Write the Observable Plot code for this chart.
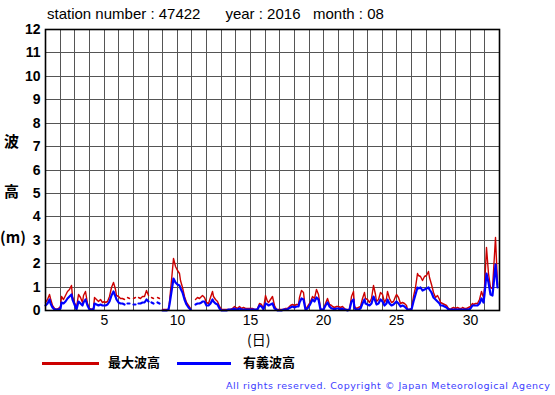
<!DOCTYPE html>
<html><head><meta charset="utf-8">
<script src="https://cdn.jsdelivr.net/npm/d3@7"></script>
<script src="https://cdn.jsdelivr.net/npm/@observablehq/plot@0.6"></script>
<style>
body{margin:0;background:#fff;}
#wrap{position:relative;width:555px;height:395px;overflow:hidden;font-family:"Liberation Sans",Arial,sans-serif;color:#000;}
#chart{position:absolute;left:0;top:0;}
.abs{position:absolute;white-space:pre;line-height:1;}
#title{left:47px;top:6px;font-size:15px;}
.ylab{left:4px;font-family:"Noto Sans CJK JP",sans-serif;font-weight:bold;font-size:15px;}
#xlab{left:247px;top:332px;font-size:14px;font-family:"Noto Sans CJK JP",sans-serif;}
.lgline{position:absolute;height:3px;top:362px;}
.lgtext{top:355px;font-size:13px;font-weight:bold;font-family:"Noto Sans CJK JP",sans-serif;}
#copy{left:226px;top:378px;}
</style></head><body>
<div id="wrap">
  <div id="chart"></div>
  <div id="title" class="abs">station number : 47422      year : 2016   month : 08</div>
  <div class="abs ylab" style="top:133px;">波</div>
  <div class="abs ylab" style="top:183px;">高</div>
  <div class="abs ylab" style="top:229px;left:0px;">(m)</div>
  <div id="xlab" class="abs">(日)</div>
  <div class="lgline" style="left:42px;width:57px;background:#cc0000;"></div>
  <div class="abs lgtext" style="left:108px;">最大波高</div>
  <div class="lgline" style="left:177px;width:54px;background:#0000ff;"></div>
  <div class="abs lgtext" style="left:243px;">有義波高</div>
  <svg id="copy" class="abs" width="326" height="14"><text x="0" y="11" textLength="324" lengthAdjust="spacing" font-family="DejaVu Sans, sans-serif" font-size="9.5" fill="#3c3cff">All rights reserved. Copyright © Japan Meteorological Agency</text></svg>
</div>
<script>
// 3-hourly values (hours 0,3,...,21) for each day of August 2016, station 47422
const maxWave = [
  0.35,0.45,0.7,0.5,0.2,0.08,0.05,0.1,      // 1
  0.15,0.6,0.45,0.65,0.8,0.9,1.05,0.6,      // 2
  0.35,0.12,0.7,0.55,0.35,0.65,0.8,0.3,     // 3
  0.08,0.05,0.1,0.55,0.45,0.4,0.45,0.35,    // 4
  0.4,0.35,0.4,0.6,1.0,1.2,0.9,0.65,        // 5
  0.6,0.5,0.5,0.45,null,0.55,0.5,null,      // 6
  0.5,0.55,null,0.55,0.5,0.6,0.6,0.85,      // 7
  0.65,null,0.55,0.5,null,0.55,0.5,null,    // 8
  0.03,0.03,0.03,0.05,0.4,1.3,2.2,1.9,      // 9
  1.7,1.6,1.3,1.0,0.6,0.35,0.2,0.1,         // 10
  null,null,0.45,0.55,0.5,0.6,0.65,0.55,    // 11
  0.35,0.3,0.55,0.8,0.6,0.45,0.4,0.15,      // 12
  0.05,0.03,0.03,0.03,0.05,0.05,0.1,0.15,   // 13
  0.12,0.1,0.15,0.1,0.12,0.1,0.08,0.1,      // 14
  0.1,0.08,0.05,0.05,0.1,0.3,0.25,0.1,      // 15
  0.65,0.4,0.35,0.45,0.6,0.2,0.05,0.03,     // 16
  0.03,0.03,0.05,0.08,0.1,0.12,0.2,0.25,    // 17
  0.2,0.25,0.25,0.55,0.85,0.75,0.05,0.15,   // 18
  0.3,0.4,0.6,0.5,0.9,0.7,0.1,0.05,         // 19
  0.05,0.3,0.5,0.25,0.2,0.15,0.12,0.15,     // 20
  0.15,0.12,0.15,0.12,0.05,0.03,0.05,0.6,   // 21
  0.8,0.15,0.1,0.12,0.15,0.5,0.75,0.5,      // 22
  0.45,0.35,0.5,1.05,0.7,0.4,0.45,0.75,     // 23
  0.7,0.35,0.5,0.8,0.5,0.35,0.4,0.6,        // 24
  0.7,0.55,0.3,0.35,0.3,0.2,0.05,0.05,      // 25
  0.1,0.6,1.0,1.6,1.5,1.45,1.3,1.45,        // 26
  1.5,1.65,1.4,1.1,0.75,0.55,0.65,0.45,     // 27
  0.35,0.3,0.25,0.2,0.1,0.05,0.08,0.12,     // 28
  0.1,0.12,0.1,0.1,0.12,0.1,0.1,0.12,       // 29
  0.15,0.3,0.25,0.3,0.3,0.45,0.8,0.55,      // 30
  1.0,2.7,1.6,1.0,0.95,2.4,3.1,1.1          // 31
];
const sigWave = [
  0.2,0.3,0.45,0.3,0.12,0.05,0.03,0.05,     // 1
  0.08,0.35,0.3,0.4,0.5,0.6,0.7,0.45,       // 2
  0.25,0.06,0.4,0.3,0.2,0.35,0.45,0.2,      // 3
  0.04,0.03,0.05,0.3,0.25,0.2,0.25,0.2,     // 4
  0.2,0.2,0.25,0.4,0.65,0.8,0.6,0.45,       // 5
  0.35,0.3,0.3,0.25,null,0.3,0.3,null,      // 6
  0.25,0.25,null,0.3,0.3,0.35,0.35,0.45,    // 7
  0.4,null,0.35,0.3,null,0.35,0.3,null,     // 8
  0.02,0.02,0.02,0.03,0.25,0.8,1.35,1.2,    // 9
  1.1,1.05,0.95,0.75,0.45,0.25,0.12,0.05,   // 10
  null,null,0.25,0.3,0.3,0.35,0.4,0.4,      // 11
  0.2,0.2,0.3,0.45,0.4,0.3,0.25,0.08,       // 12
  0.02,0.02,0.02,0.02,0.03,0.03,0.05,0.08,  // 13
  0.06,0.05,0.08,0.05,0.06,0.05,0.04,0.05,  // 14
  0.05,0.04,0.03,0.03,0.05,0.2,0.15,0.05,   // 15
  0.3,0.25,0.2,0.25,0.3,0.1,0.03,0.02,      // 16
  0.02,0.02,0.03,0.05,0.06,0.08,0.12,0.15,  // 17
  0.12,0.15,0.15,0.35,0.5,0.45,0.03,0.1,    // 18
  0.2,0.3,0.45,0.4,0.55,0.45,0.05,0.03,     // 19
  0.03,0.2,0.35,0.15,0.1,0.08,0.06,0.08,    // 20
  0.08,0.06,0.08,0.06,0.03,0.02,0.03,0.4,   // 21
  0.45,0.08,0.05,0.06,0.08,0.3,0.45,0.3,    // 22
  0.25,0.2,0.3,0.6,0.4,0.25,0.3,0.45,       // 23
  0.4,0.2,0.3,0.45,0.3,0.2,0.25,0.35,       // 24
  0.4,0.3,0.15,0.2,0.15,0.1,0.03,0.03,      // 25
  0.05,0.4,0.7,1.0,0.95,1.0,0.85,0.9,       // 26
  0.95,1.0,0.9,0.75,0.55,0.45,0.4,0.3,      // 27
  0.2,0.2,0.15,0.12,0.05,0.03,0.03,0.06,    // 28
  0.05,0.06,0.05,0.05,0.06,0.05,0.05,0.06,  // 29
  0.08,0.2,0.2,0.22,0.2,0.3,0.5,0.35,       // 30
  0.7,1.6,1.2,0.7,0.65,1.5,1.95,1.0         // 31
];
const dayTicks = [5, 10, 15, 20, 25, 30];
const heightTicks = [0,1,2,3,4,5,6,7,8,9,10,11,12];
const dayGrid = d3.range(1, 33);

// time in days (day-of-month + fraction), 3-hour steps
const data = maxWave.map((m, i) => ({t: 1 + i / 8, max: m, sig: sigWave[i]}));

const chart = Plot.plot({
  width: 555,
  height: 345,
  marginLeft: 45,
  marginRight: 56,
  marginTop: 29,
  marginBottom: 35,
  style: {fontFamily: "Liberation Sans, Arial, sans-serif", background: "transparent", color: "#000"},
  x: {domain: [1, 32], round: true},
  y: {domain: [0, 12], round: true},
  marks: [
    Plot.ruleX(dayGrid, {x: d => d, stroke: "#555", strokeWidth: 1}),
    Plot.ruleY(heightTicks, {y: d => d, stroke: "#555", strokeWidth: 1}),
    Plot.line(data, {x: "t", y: "max", stroke: "#cc0000", strokeWidth: 1.4}),
    Plot.line(data, {x: "t", y: "sig", stroke: "#0000ff", strokeWidth: 2.2}),
    Plot.frame({stroke: "#000", strokeWidth: 1.6}),
    Plot.axisX(dayTicks, {tickSize: 0, tickPadding: 5, fontSize: 14, label: null}),
    Plot.axisY(heightTicks, {tickSize: 0, tickPadding: 5, fontSize: 14, fontWeight: "bold", label: null})
  ]
});
document.getElementById("chart").appendChild(chart);
</script>
</body></html>
